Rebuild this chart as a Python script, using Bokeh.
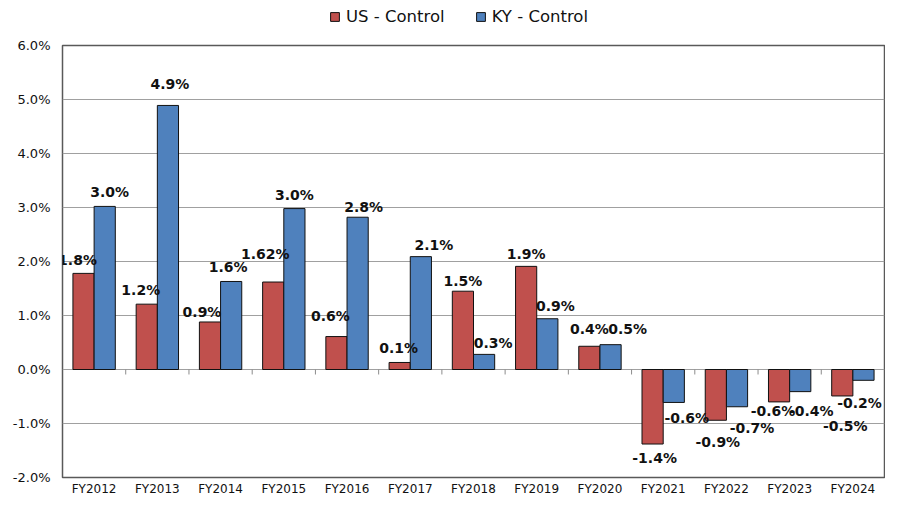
from bokeh.plotting import figure
from bokeh.layouts import column
from bokeh.models import (ColumnDataSource, FixedTicker, PrintfTickFormatter, Legend, LegendItem, Range1d)
from bokeh.core.properties import value
from bokeh.embed import file_html
from bokeh.resources import INLINE

# ---- data ----
years = ["FY2012", "FY2013", "FY2014", "FY2015", "FY2016", "FY2017", "FY2018",
         "FY2019", "FY2020", "FY2021", "FY2022", "FY2023", "FY2024"]
us_control = [1.78, 1.21, 0.88, 1.62, 0.61, 0.13, 1.45, 1.91, 0.43, -1.38, -0.94, -0.60, -0.49]
ky_control = [3.02, 4.89, 1.63, 2.98, 2.82, 2.09, 0.28, 0.94, 0.46, -0.61, -0.69, -0.41, -0.20]
us_labels = ["1.8%", "1.2%", "0.9%", "1.62%", "0.6%", "0.1%", "1.5%", "1.9%", "0.4%",
             "-1.4%", "-0.9%", "-0.6%", "-0.5%"]
ky_labels = ["3.0%", "4.9%", "1.6%", "3.0%", "2.8%", "2.1%", "0.3%", "0.9%", "0.5%",
             "-0.6%", "-0.7%", "-0.4%", "-0.2%"]
series_names = ["US - Control", "KY - Control"]
y_ticks = [-2, -1, 0, 1, 2, 3, 4, 5, 6]

# ---- label nudges (pixels): distance from bar end, horizontal shift ----
us_dy = [13, 14, 10, 28, 21, 14, 10, 12, 17, 14, 22, 9, 30]
us_dx = [-6, -6, -8, -8, -6, -1, 0, 0, 0, 2, 2, -6, 3]
ky_dy = [14, 21, 14, 14, 10, 12, 11, 13, 16, 16, 21, 19, 23]
ky_dx = [5, 2, -3, 0, 6, 13, 9, 8, 17, 13, 15, 11, -4]

RED = "#C0504D"
BLUE = "#4F81BD"
EDGE = "#111111"
FONT = "DejaVu Sans"
BW = 0.335
OFF = BW / 2

W, H = 885, 498
LH = 30                      # height of the legend strip
TOP, BOTTOM, LEFT, RIGHT = 45 - LH, 20, 62, 1
MH = H - LH
frame_h = MH - TOP - BOTTOM

# ---------- legend strip ----------
lf = figure(width=W, height=LH, output_backend="svg", toolbar_location=None,
            x_range=Range1d(0, 1), y_range=Range1d(0, 1),
            x_axis_location=None, y_axis_location=None,
            min_border=0, outline_line_color=None)
lf.grid.visible = False
# swatch renderers without drawable data, so only the legend squares show
d_us = lf.vbar(x=[float("nan")], top=[float("nan")], width=0.1,
               fill_color=RED, line_color=EDGE, line_width=1)
d_ky = lf.vbar(x=[float("nan")], top=[float("nan")], width=0.1,
               fill_color=BLUE, line_color=EDGE, line_width=1)
legend = Legend(items=[LegendItem(label=series_names[0], renderers=[d_us]),
                       LegendItem(label=series_names[1], renderers=[d_ky])],
                orientation="horizontal", location=(329 - LEFT, LH - 26),
                label_text_font=FONT, label_text_font_size="16.5px", label_text_color=EDGE,
                glyph_width=11, glyph_height=11, label_height=16, label_standoff=6,
                spacing=30, padding=0, margin=0,
                border_line_color=None, background_fill_alpha=0)
lf.add_layout(legend, "center")

# ---------- main chart ----------
p = figure(width=W, height=MH, output_backend="svg", toolbar_location=None,
           x_range=Range1d(-0.5, len(years) - 0.5), y_range=Range1d(y_ticks[0], y_ticks[-1]),
           min_border_left=LEFT, min_border_right=RIGHT, min_border_top=TOP,
           min_border_bottom=BOTTOM)

idx = list(range(len(years)))
src_us = ColumnDataSource(dict(
    x=[i - OFF for i in idx], top=us_control, label=us_labels,
    xo=us_dx, yo=[(-d if v >= 0 else d) for v, d in zip(us_control, us_dy)]))
src_ky = ColumnDataSource(dict(
    x=[i + OFF for i in idx], top=ky_control, label=ky_labels,
    xo=ky_dx, yo=[(-d if v >= 0 else d) for v, d in zip(ky_control, ky_dy)]))

p.vbar(x="x", top="top", bottom=0, width=BW, source=src_us,
       fill_color=RED, line_color=EDGE, line_width=1)
p.vbar(x="x", top="top", bottom=0, width=BW, source=src_ky,
       fill_color=BLUE, line_color=EDGE, line_width=1)

for src in (src_us, src_ky):
    p.text(x="x", y="top", text="label", source=src, x_offset="xo", y_offset="yo",
           text_font=value(FONT), text_font_size="14px", text_font_style="bold",
           text_align="center", text_baseline="middle", text_color=EDGE)

# category-boundary ticks on the zero line
tick_len = (y_ticks[-1] - y_ticks[0]) / frame_h * 5
bx = [i + 0.5 for i in idx[:-1]]
p.segment(x0=bx, y0=[0] * len(bx), x1=bx, y1=[-tick_len] * len(bx),
          line_color="#8c8c8c", line_width=1)

# axes
p.xaxis.ticker = FixedTicker(ticks=idx)
p.xaxis.major_label_overrides = {i: y for i, y in enumerate(years)}
p.xaxis.major_tick_line_color = None
p.xaxis.major_tick_out = 0
p.xaxis.major_tick_in = 0
p.xaxis.minor_tick_line_color = None
p.xaxis.axis_line_color = None
p.xaxis.major_label_standoff = 4
p.xaxis.major_label_text_font = FONT
p.xaxis.major_label_text_font_size = "12px"
p.xaxis.major_label_text_color = EDGE

p.yaxis.ticker = FixedTicker(ticks=y_ticks)
p.yaxis.formatter = PrintfTickFormatter(format="%.1f%%")
p.yaxis.major_tick_line_color = None
p.yaxis.major_tick_out = 0
p.yaxis.major_tick_in = 0
p.yaxis.minor_tick_line_color = None
p.yaxis.axis_line_color = None
p.yaxis.major_label_standoff = 12
p.yaxis.major_label_text_font = FONT
p.yaxis.major_label_text_font_size = "13px"
p.yaxis.major_label_text_color = EDGE

p.xgrid.grid_line_color = None
p.ygrid.grid_line_color = "#a0a0a0"
p.ygrid.grid_line_width = 1

p.outline_line_color = "#595959"
p.outline_line_width = 1.5
p.background_fill_color = "white"
p.border_fill_color = "white"

layout = column(lf, p, spacing=0)
open("out.html", "w").write(file_html(layout, INLINE))
